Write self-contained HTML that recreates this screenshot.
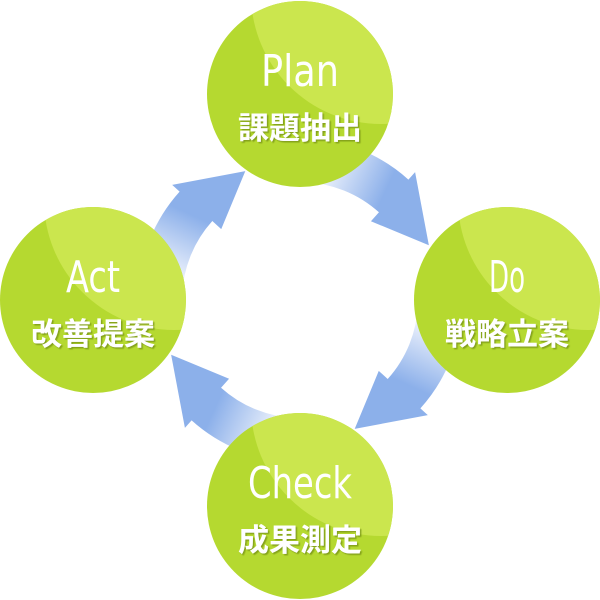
<!DOCTYPE html>
<html><head><meta charset="utf-8"><style>
html,body{margin:0;padding:0;background:#fff;width:600px;height:600px;overflow:hidden}
</style></head><body>
<svg id="s" width="600" height="600" viewBox="0 0 600 600" xmlns="http://www.w3.org/2000/svg">
<defs>
<filter id="sh" x="-10%" y="-10%" width="130%" height="130%"><feDropShadow dx="1.5" dy="1.5" stdDeviation="0.6" flood-color="#6f8a10" flood-opacity="0.7"/></filter>
</defs>
<g id="arrows"></g>
<g id="circles"></g>
</svg>
<script>
var NS="http://www.w3.org/2000/svg",s=document.getElementById('s'),defs=s.querySelector('defs'),A=document.getElementById('arrows'),C=document.getElementById('circles');
var cx=300,cy=300,ri=118,ro=162,rm=140;
function P(r,a){a=a*Math.PI/180;return [cx+r*Math.cos(a),cy+r*Math.sin(a)];}
function el(t,at,p){var e=document.createElementNS(NS,t);for(var k in at)e.setAttribute(k,at[k]);(p||s).appendChild(e);return e;}
[-90,0,90,180].forEach(function(st,i){
  var a0=st+2,ab=st+42,tip=st+67;
  var g=el('linearGradient',{id:'g'+i,gradientUnits:'userSpaceOnUse'},defs);
  var t=P(rm,st+12),h=P(rm,ab-4);
  g.setAttribute('x1',t[0]);g.setAttribute('y1',t[1]);g.setAttribute('x2',h[0]);g.setAttribute('y2',h[1]);
  el('stop',{offset:'0','stop-color':'#edf2fc'},g);el('stop',{offset:'1','stop-color':'#8cb0ea'},g);
  var p1=P(ro,a0),p2=P(ro,ab),p3=P(ro+10,ab),p4=P(rm,tip),p5=P(ri-12,ab),p6=P(ri,ab),p7=P(ri,a0);
  var d='M'+p1+' A'+ro+' '+ro+' 0 0 1 '+p2+' L'+p3+' L'+p4+' L'+p5+' L'+p6+' A'+ri+' '+ri+' 0 0 0 '+p7+' Z';
  el('path',{d:d,fill:'url(#g'+i+')'},A);
});
var nodes=[[300,94,'Plan',78,'課題抽出'],[507,300,'Do',36,'戦略立案'],[300,506,'Check',104,'成果測定'],[93,300,'Act',54,'改善提案']];
nodes.forEach(function(n,i){
  var x=n[0],y=n[1],r=93;
  var cp=el('clipPath',{id:'c'+i},defs);el('circle',{cx:x,cy:y,r:r},cp);
  el('circle',{cx:x,cy:y,r:r,fill:'#b5d930'},C);
  el('circle',{cx:x+81,cy:y-100,r:130,fill:'#cbe64e','clip-path':'url(#c'+i+')'},C);
  var t1=el('text',{x:x,y:y-8,'text-anchor':'middle','font-family':'"DejaVu Sans Condensed","Liberation Sans",sans-serif','font-size':'44',fill:'#fff',textLength:n[3],lengthAdjust:'spacingAndGlyphs'},C);t1.textContent=n[2];
  var t2=el('text',{x:x,y:y+45,'text-anchor':'middle','font-family':'"Liberation Sans","Noto Sans CJK JP",sans-serif','font-size':'31','font-weight':'bold',fill:'#fff',filter:'url(#sh)',textLength:124,lengthAdjust:'spacingAndGlyphs'},C);t2.textContent=n[4];
});
</script>
</body></html>
